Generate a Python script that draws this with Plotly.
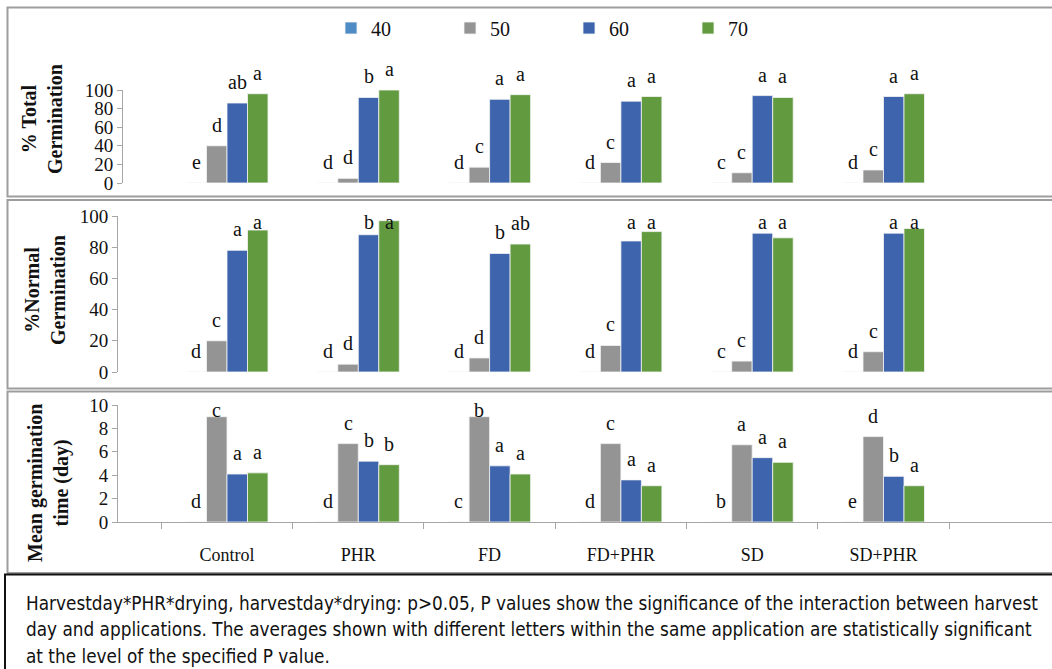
import plotly.graph_objects as go

W, H = 1052, 669

categories = ["Control", "PHR", "FD", "FD+PHR", "SD", "SD+PHR"]
harvest_days = ["40", "50", "60", "70"]

# % total germination by harvest day
total_40 = [0, 0, 0, 0, 0, 0]
total_50 = [40, 5, 17, 22, 11, 14]
total_60 = [86, 92, 90, 88, 94, 93]
total_70 = [96, 100, 95, 93, 92, 96]
total_let_40 = ["e", "d", "d", "d", "c", "d"]
total_let_50 = ["d", "d", "c", "c", "c", "c"]
total_let_60 = ["ab", "b", "a", "a", "a", "a"]
total_let_70 = ["a", "a", "a", "a", "a", "a"]

# % normal germination by harvest day
normal_40 = [0, 0, 0, 0, 0, 0]
normal_50 = [20, 5, 9, 17, 7, 13]
normal_60 = [78, 88, 76, 84, 89, 89]
normal_70 = [91, 97, 82, 90, 86, 92]
normal_let_40 = ["d", "d", "d", "d", "c", "d"]
normal_let_50 = ["c", "d", "d", "c", "c", "c"]
normal_let_60 = ["a", "b", "b", "a", "a", "a"]
normal_let_70 = ["a", "a", "ab", "a", "a", "a"]

# mean germination time (day) by harvest day
mgt_40 = [0, 0, 0, 0, 0, 0]
mgt_50 = [9.0, 6.7, 9.0, 6.7, 6.6, 7.3]
mgt_60 = [4.1, 5.2, 4.8, 3.6, 5.5, 3.9]
mgt_70 = [4.2, 4.9, 4.1, 3.1, 5.1, 3.1]
mgt_let_40 = ["d", "d", "c", "d", "b", "e"]
mgt_let_50 = ["c", "c", "b", "c", "a", "d"]
mgt_let_60 = ["a", "b", "a", "a", "a", "b"]
mgt_let_70 = ["a", "b", "a", "a", "a", "a"]

footnote = [
    "Harvestday*PHR*drying, harvestday*drying: p>0.05, P values show the significance of the interaction between harvest",
    "day and applications. The averages shown with different letters within the same application are statistically significant",
    "at the level of the specified P value.",
]

colors = ["#4f8bc4", "#949494", "#3d64ad", "#629a40"]
SERIF = "Liberation Serif"
GRID_GRAY = "#a6a6a6"

# pixel geometry of each panel
panels = [
    dict(values=[total_40, total_50, total_60, total_70],
         letters=[total_let_40, total_let_50, total_let_60, total_let_70],
         title="% Total<br>Germination", title_xy=(42, 119),
         left=123, y0=183, ytop=90, ymax=100, dtick=20, clamp=0,
         box=(7.5, 196.5), xlabels=False),
    dict(values=[normal_40, normal_50, normal_60, normal_70],
         letters=[normal_let_40, normal_let_50, normal_let_60, normal_let_70],
         title="%Normal<br>Germination", title_xy=(45, 290),
         left=118, y0=372, ytop=216, ymax=100, dtick=20, clamp=222,
         box=(200, 388.5), xlabels=False),
    dict(values=[mgt_40, mgt_50, mgt_60, mgt_70],
         letters=[mgt_let_40, mgt_let_50, mgt_let_60, mgt_let_70],
         title="Mean germination<br>time (day)", title_xy=(48, 483),
         left=118, y0=522, ytop=405, ymax=10, dtick=2, clamp=410,
         box=(391.5, 573), xlabels=True),
]

CAT0 = 227.0     # centre of first category, px
STEP = 131.3     # category spacing, px
BAR_W = 20.5     # bar width, px
bargap = 1 - 4 * BAR_W / STEP


def py(px):
    return 1 - px / H


fig = go.Figure()
annotations = []
shapes = []

for p_idx, p in enumerate(panels):
    n = p_idx + 1
    xa = "x" if n == 1 else f"x{n}"
    ya = "y" if n == 1 else f"y{n}"
    for s, day in enumerate(harvest_days):
        fig.add_trace(go.Bar(
            x=categories, y=p["values"][s], name=day,
            marker=dict(color=colors[s], line=dict(color="#f4f4f4", width=0.8)),
            xaxis=xa, yaxis=ya, legendgroup=day, showlegend=(n == 1),
            hoverinfo="skip",
        ))
    r0 = (p["left"] - CAT0) / STEP
    r1 = r0 + (W - p["left"]) / STEP
    xkey = "xaxis" if n == 1 else f"xaxis{n}"
    ykey = "yaxis" if n == 1 else f"yaxis{n}"
    fig.layout[xkey] = dict(
        domain=[p["left"] / W, 1], anchor=ya, type="category",
        range=[r0, r1], fixedrange=True, automargin=False,
        showline=p["xlabels"], linecolor=GRID_GRAY, linewidth=1,
        ticks="outside" if p["xlabels"] else "", tickson="boundaries",
        ticklen=6, tickcolor=GRID_GRAY,
        showticklabels=p["xlabels"], ticklabelstandoff=16,
        tickfont=dict(family=SERIF, size=18, color="#111"),
        showgrid=False, zeroline=False,
    )
    fig.layout[ykey] = dict(
        domain=[py(p["y0"]), py(p["ytop"])], anchor=xa,
        range=[0, p["ymax"]], dtick=p["dtick"], tick0=0, automargin=False,
        showline=True, linecolor=GRID_GRAY, linewidth=1,
        ticks="outside", ticklen=5, tickcolor=GRID_GRAY,
        tickfont=dict(family=SERIF, size=19, color="#111"),
        showgrid=False, zeroline=False, fixedrange=True,
    )

    # significance letters above each bar
    ppu = (p["y0"] - p["ytop"]) / p["ymax"]
    bar_px = STEP * (1 - bargap) / 4
    for s in range(4):
        for i, cat in enumerate(categories):
            v = p["values"][s][i]
            top_px = p["y0"] - v * ppu
            centre = max(top_px - 21, p["clamp"])
            annotations.append(dict(
                x=cat, y=v, xref=xa, yref=ya, text=p["letters"][s][i],
                showarrow=False, xanchor="center", yanchor="middle",
                xshift=(s - 1.5) * bar_px, yshift=top_px - centre,
                font=dict(family=SERIF, size=20, color="#111"),
            ))

    # axis title
    tx, ty = p["title_xy"]
    annotations.append(dict(
        x=tx / W, y=py(ty), xref="paper", yref="paper", text=p["title"],
        textangle=-90, showarrow=False, xanchor="center", yanchor="middle",
        font=dict(family=SERIF, size=20, color="#111", weight="bold"),
    ))

    # panel frame
    b0, b1 = p["box"]
    shapes.append(dict(type="rect", xref="paper", yref="paper",
                       x0=7.5 / W, x1=1.02, y0=py(b1), y1=py(b0),
                       line=dict(color="#9d9d9d", width=2), layer="below"))

# footnote box and text
shapes.append(dict(type="rect", xref="paper", yref="paper",
                   x0=5 / W, x1=1.02, y0=-0.02, y1=py(574.5),
                   line=dict(color="#111", width=2)))
for k, line in enumerate(footnote):
    annotations.append(dict(
        x=24 / W, y=py(603 + 26.5 * k), xref="paper", yref="paper",
        text=line, showarrow=False, xanchor="left", yanchor="middle",
        font=dict(family="DejaVu Sans Condensed", size=18.8, color="#111"),
    ))

fig.update_layout(
    width=W, height=H, margin=dict(l=0, r=0, t=0, b=0, autoexpand=False),
    paper_bgcolor="white", plot_bgcolor="rgba(0,0,0,0)",
    barmode="group", bargap=bargap, bargroupgap=0,
    annotations=annotations, shapes=shapes,
    showlegend=True,
    legend=dict(orientation="h", x=331 / W, xanchor="left",
                y=py(28), yanchor="middle",
                font=dict(family=SERIF, size=20, color="#111"),
                entrywidth=74, entrywidthmode="pixels",
                bgcolor="rgba(0,0,0,0)", traceorder="normal"),
)

fig.write_html("out.html")
